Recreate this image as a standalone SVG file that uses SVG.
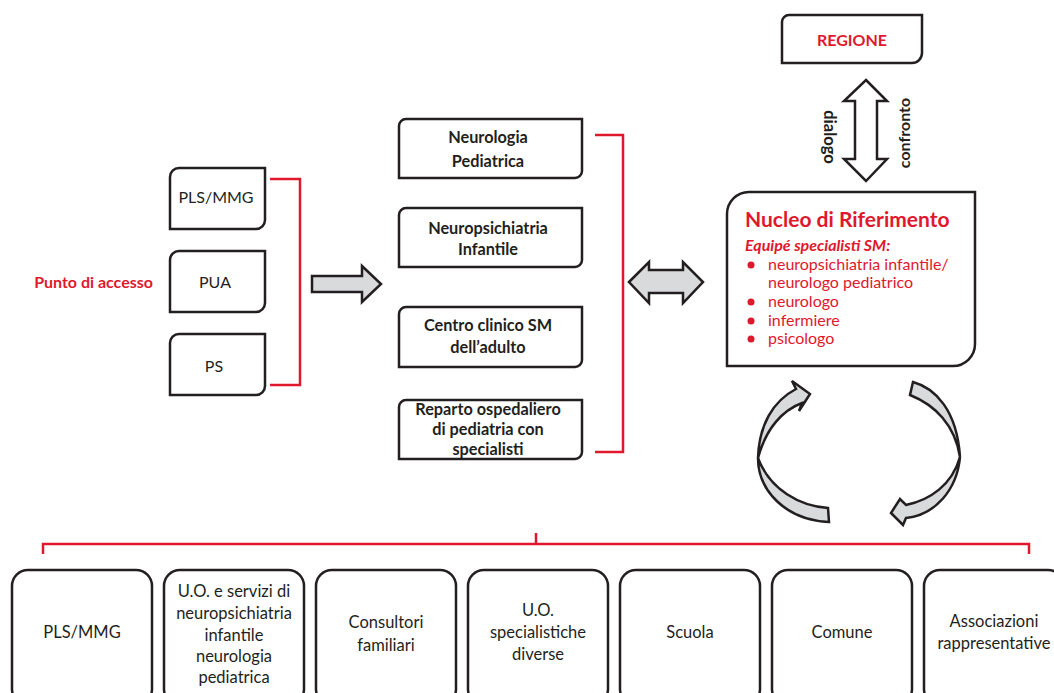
<svg xmlns="http://www.w3.org/2000/svg" width="1054" height="693" viewBox="0 0 1054 693">
  <defs>
    <style>
      .box { fill: #ffffff; stroke: #231f20; stroke-width: 2.5; }
      .garrow { fill: #d9dadb; stroke: #231f20; stroke-width: 2.5; stroke-linejoin: miter; }
      .warrow { fill: #ffffff; stroke: #231f20; stroke-width: 2.5; stroke-linejoin: miter; }
      .bracket { fill: none; stroke: #e0182d; stroke-width: 2.5; }
      .t { font-family: Lato, "Liberation Sans", sans-serif; fill: #231f20; }
      .reg { font-size: 16.5px; font-weight: 400; text-anchor: middle; }
      .bold { font-size: 16.3px; font-weight: 700; text-anchor: middle; }
      .red { fill: #e0182d; }
    </style>
  </defs>

  <rect width="1054" height="693" fill="#ffffff"/>

  <!-- connectors: red brackets and arrows -->
  <g id="connectors">
    <path class="bracket" d="M270,179 H300 V385 H270"/>
    <path class="bracket" d="M595,135 H623 V452 H595"/>
    <path class="bracket" d="M43,554 V544 H1029 V554 M536,533 V544"/>
    <polygon class="garrow" points="312,276 362,276 362,266 381,284 362,302 362,292 312,292"/>
    <polygon class="garrow" points="629,282 649,262 649,270 683,270 683,262 703,282 683,303 683,293 649,293 649,303"/>
    <polygon class="warrow" points="866,80 887,101 877,101 877,159 887,159 866,181 844,159 855,159 855,101 844,101"/>
    <text class="t" font-size="16.5px" font-weight="700" text-anchor="middle" dominant-baseline="central" transform="translate(830,137) rotate(90)">dialogo</text>
    <text class="t" font-size="16px" font-weight="700" text-anchor="middle" dominant-baseline="central" transform="translate(903,133) rotate(-90)">confronto</text>
    <!-- cycle arrows -->
    <path class="garrow" d="M758,458 C759,425 773,401 796,389 L792,381 L810,394 L799,411 L802,403 C783,410 766,428 758,458 Z"/>
    <path class="garrow" d="M758,458 C758,490 785,520 829,522 L828,508 C800,506 770,490 758,458 Z"/>
    <path class="garrow" d="M913,382 C935,388 957,410 960,457 C955,425 935,405 910,395 Z"/>
    <path class="garrow" d="M960,457 C957,490 935,515 906,518 L903,525 L891,513 L900,499 L906,505 C930,500 952,485 960,457 Z"/>
  </g>

  <text class="t red" x="153" y="288" font-size="16px" font-weight="700" text-anchor="end">Punto di accesso</text>

  <!-- access points -->
  <g id="acc-plsmmg">
    <path class="box" d="M170,177 A9,9 0 0 1 179,168 H265 V220 A9,9 0 0 1 256,229 H170 Z"/>
    <text class="t" x="216" y="203" font-size="16px" text-anchor="middle">PLS/MMG</text>
  </g>
  <g id="acc-pua">
    <path class="box" d="M170,260 A9,9 0 0 1 179,251 H265 V303 A9,9 0 0 1 256,312 H170 Z"/>
    <text class="t" x="215" y="288" font-size="16px" text-anchor="middle">PUA</text>
  </g>
  <g id="acc-ps">
    <path class="box" d="M170,343 A9,9 0 0 1 179,334 H265 V386 A9,9 0 0 1 256,395 H170 Z"/>
    <text class="t" x="214" y="372" font-size="16px" text-anchor="middle">PS</text>
  </g>

  <!-- specialist services -->
  <g id="svc-neuroped">
    <path class="box" d="M399,126 A7,7 0 0 1 406,119 H582 V171 A7,7 0 0 1 575,178 H399 Z"/>
    <text class="t bold" x="488" y="143">Neurologia</text>
    <text class="t bold" x="488" y="167">Pediatrica</text>
  </g>
  <g id="svc-npi">
    <path class="box" d="M399,215 A7,7 0 0 1 406,208 H582 V260 A7,7 0 0 1 575,267 H399 Z"/>
    <text class="t bold" x="488" y="234">Neuropsichiatria</text>
    <text class="t bold" x="488" y="255">Infantile</text>
  </g>
  <g id="svc-centro">
    <path class="box" d="M399,314 A7,7 0 0 1 406,307 H582 V360 A7,7 0 0 1 575,367 H399 Z"/>
    <text class="t bold" x="488" y="331">Centro clinico SM</text>
    <text class="t bold" x="488" y="353">dell’adulto</text>
  </g>
  <g id="svc-reparto">
    <path class="box" d="M399,407 A7,7 0 0 1 406,400 H582 V452 A7,7 0 0 1 575,459 H399 Z"/>
    <text class="t bold" x="488" y="415">Reparto ospedaliero</text>
    <text class="t bold" x="488" y="435">di pediatria con</text>
    <text class="t bold" x="488" y="455">specialisti</text>
  </g>

  <!-- region -->
  <g id="regione">
    <path class="box" d="M782,22 A7,7 0 0 1 789,15 H922 V53 A10,10 0 0 1 912,63 H782 Z"/>
    <text class="t red" x="852" y="46" font-size="16px" font-weight="700" text-anchor="middle">REGIONE</text>
  </g>

  <!-- reference core team -->
  <g id="nucleo">
    <path class="box" d="M727,214 A22,22 0 0 1 749,192 H975 V344 A22,22 0 0 1 953,366 H727 Z"/>
    <text class="t red" x="745" y="227" font-size="21px" font-weight="700">Nucleo di Riferimento</text>
    <text class="t red" x="745" y="251" font-size="16px" font-weight="700" font-style="italic">Equipé specialisti SM:</text>
    <g class="red">
      <circle cx="751" cy="265" r="3.5"/>
      <circle cx="751" cy="302" r="3.5"/>
      <circle cx="751" cy="321" r="3.5"/>
      <circle cx="751" cy="339" r="3.5"/>
    </g>
    <g class="t red" font-size="16px">
      <text x="768" y="270">neuropsichiatria infantile/</text>
      <text x="768" y="288">neurologo pediatrico</text>
      <text x="768" y="307">neurologo</text>
      <text x="768" y="326">infermiere</text>
      <text x="768" y="344">psicologo</text>
    </g>
  </g>

  <!-- network partners -->
  <g id="net-plsmmg">
    <rect class="box" x="12" y="570" width="140" height="135" rx="16"/>
    <text class="t reg" x="82" y="638">PLS/MMG</text>
  </g>
  <g id="net-uo-npi">
    <rect class="box" x="164" y="570" width="140" height="135" rx="16"/>
    <text class="t reg" x="234" y="597">U.O. e servizi di</text>
    <text class="t reg" x="234" y="619">neuropsichiatria</text>
    <text class="t reg" x="234" y="641">infantile</text>
    <text class="t reg" x="234" y="662">neurologia</text>
    <text class="t reg" x="234" y="683">pediatrica</text>
  </g>
  <g id="net-consultori">
    <rect class="box" x="316" y="570" width="140" height="135" rx="16"/>
    <text class="t reg" x="386" y="628">Consultori</text>
    <text class="t reg" x="386" y="651">familiari</text>
  </g>
  <g id="net-uo-spec">
    <rect class="box" x="468" y="570" width="140" height="135" rx="16"/>
    <text class="t reg" x="538" y="616">U.O.</text>
    <text class="t reg" x="538" y="638">specialistiche</text>
    <text class="t reg" x="538" y="660">diverse</text>
  </g>
  <g id="net-scuola">
    <rect class="box" x="620" y="570" width="140" height="135" rx="16"/>
    <text class="t reg" x="690" y="638">Scuola</text>
  </g>
  <g id="net-comune">
    <rect class="box" x="772" y="570" width="140" height="135" rx="16"/>
    <text class="t reg" x="842" y="638">Comune</text>
  </g>
  <g id="net-associazioni">
    <rect class="box" x="924" y="570" width="140" height="135" rx="16"/>
    <text class="t reg" x="994" y="627">Associazioni</text>
    <text class="t reg" x="994" y="649">rappresentative</text>
  </g>
</svg>
